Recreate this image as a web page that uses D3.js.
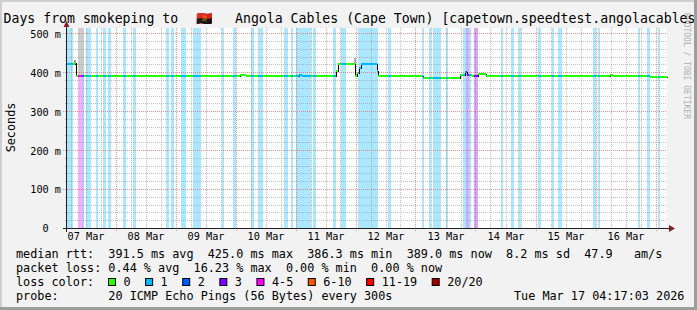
<!DOCTYPE html>
<html><head><meta charset="utf-8">
<script src="https://cdn.jsdelivr.net/npm/d3@7"></script>
<style>
html,body{margin:0;padding:0;background:#f2f2f2;}
svg{display:block;}
text{font-family:"DejaVu Sans Mono",monospace;white-space:pre;}
</style></head><body>
<svg id="chart" width="697" height="310"></svg>
<script>
// ---------------- data ----------------
const titleParts = ["Days from smokeping to", "🇦🇴", "Angola Cables (Cape Town) [capetown.speedtest.angolacables"];
const yAxisTitle = "Seconds";
const watermark = "RRDTOOL / TOBI OETIKER";
const timeDomain = ["03-07 04:36", "03-17 04:36"];
const yTickValues = [0, 0.1, 0.2, 0.3, 0.4, 0.5];
const dayLabelTimes = ["03-07 12:00","03-08 12:00","03-09 12:00","03-10 12:00","03-11 12:00",
  "03-12 12:00","03-13 12:00","03-14 12:00","03-15 12:00","03-16 12:00"];

// median rtt (ms), step series: value holds from time until next time
const medianTimes = ["03-07 04:36","03-07 07:36","03-07 08:12","03-10 01:48","03-10 04:12",
  "03-11 01:24","03-11 02:36","03-11 16:00","03-11 16:48","03-11 23:48","03-12 00:36",
  "03-12 01:12","03-12 02:00","03-12 08:24","03-12 09:00","03-13 03:00","03-13 17:48",
  "03-13 19:48","03-13 20:48","03-13 22:36","03-14 01:00","03-14 04:12","03-16 05:48",
  "03-16 07:00","03-16 21:48"];
const medianValues = [420,425,390,394,389.5,392,389.5,402,421,390,398,410,421,402,389.5,
  386.3,394,401,392,390.5,395,389.5,394,389.5,389];

// packet loss periods (index into loss legend)
const lossFrom = ["03-07 04:36","03-07 09:00","03-07 10:36","03-07 12:12","03-07 16:12",
  "03-07 19:00","03-07 21:00","03-08 03:00","03-08 07:00","03-08 20:12","03-08 22:12",
  "03-09 02:12","03-09 07:00","03-09 18:36","03-09 23:00","03-10 06:12","03-10 09:00",
  "03-10 19:24","03-10 22:00","03-11 00:12","03-11 07:00","03-11 15:00","03-11 18:12",
  "03-12 01:00","03-12 13:00","03-13 02:24","03-13 05:12","03-13 07:00","03-13 12:12",
  "03-13 19:00","03-13 20:12","03-13 21:12","03-13 23:24","03-14 10:12","03-14 14:12",
  "03-14 17:00","03-15 01:00","03-15 06:36","03-15 09:00","03-15 23:00","03-16 01:00",
  "03-16 17:00","03-16 20:36","03-17 00:48"];
const lossTo = ["03-07 07:00","03-07 10:36","03-07 11:24","03-07 14:12","03-07 17:00",
  "03-07 20:12","03-07 22:12","03-08 04:12","03-08 08:12","03-08 21:12","03-08 23:12",
  "03-09 04:12","03-09 10:12","03-09 19:24","03-10 00:12","03-10 07:12","03-10 11:00",
  "03-10 21:00","03-10 22:48","03-11 06:12","03-11 08:12","03-11 16:12","03-11 20:12",
  "03-12 09:00","03-12 14:12","03-13 03:24","03-13 06:12","03-13 10:12","03-13 13:00",
  "03-13 20:12","03-13 21:12","03-13 22:12","03-14 00:48","03-14 11:00","03-14 15:12",
  "03-14 18:12","03-15 02:12","03-15 07:24","03-15 10:36","03-16 00:12","03-16 01:48",
  "03-16 17:48","03-16 21:48","03-17 01:48"];
const lossLevel = [1,4,2,1,1,1,1,1,1,1,1,1,1,1,1,1,1,1,1,1,1,1,1,1,1,1,1,1,1,1,3,1,3,1,1,1,1,1,1,1,1,1,1,1];

// smoke (spread of individual pings, ms)
const smokeFrom = ["03-07 07:24","03-07 08:48","03-11 17:00","03-11 23:12","03-12 02:12"];
const smokeTo   = ["03-07 08:12","03-07 11:12","03-11 23:12","03-12 00:12","03-12 08:12"];
const smokeLow  = [425,392,421,421,421];
const smokeHigh = [432,513,424,436,424.5];
const smokeDensity = [0.6,0.2,0.55,0.45,0.6];

// legend
const lossLabels = ["0","1","2","3","4-5","6-10","11-19","20/20"];
const lossColors = ["#26ff00","#00b8ff","#0059ff","#7e00ff","#ff00ff","#ff5500","#ff0000","#a10000"];
const rttValues = [391.5, 425.0, 386.3, 389.0];
const rttNames = ["avg","max","min","now"];
const rttSd = 8.2;
const rttAms = 47.9;
const lossPctValues = [0.44, 16.23, 0.00, 0.00];
const lossPctNames = ["avg","max","min","now"];
const probeText = "20 ICMP Echo Pings (56 Bytes) every 300s";
const stampText = "Tue Mar 17 04:17:03 2026";

// ---------------- chart ----------------
const parse = s => d3.timeParse("%Y-%m-%d %H:%M")("2026-" + s);
const W = 697, H = 310;
const L = 67, R = 667, T = 28, B = 228;
const svg = d3.select("#chart");

const x = d3.scaleTime().domain(timeDomain.map(parse)).range([L, R]);
const y = d3.scaleLinear().domain([0, 0.5137]).range([B, T]);

svg.append("rect").attr("width", W).attr("height", H).attr("fill", "#f2f2f2");
svg.append("rect").attr("x", L).attr("y", T).attr("width", R - L).attr("height", B - T).attr("fill", "#fff");

// watermark
svg.append("text").attr("transform", "translate(683.5,13) rotate(90)")
  .attr("font-size", 8).attr("fill", "#b0b0b0").text(watermark);

// loss background bars
const px = t => Math.round(x(t));
svg.append("g").selectAll("rect").data(lossFrom.map((f, i) => ({f: parse(f), t: parse(lossTo[i]), l: lossLevel[i]})))
  .join("rect")
  .attr("x", d => px(d.f)).attr("width", d => Math.max(1, px(d.t) - px(d.f)))
  .attr("y", T).attr("height", B - T)
  .attr("fill", d => lossColors[d.l]).attr("fill-opacity", 0.33);

// smoke
const smokeCol = d3.interpolateRgb("#e2e2e2", "#6e6e6e");
svg.append("g").selectAll("rect").data(smokeFrom.map((f, i) => ({f: parse(f), t: parse(smokeTo[i]), lo: smokeLow[i] / 1000, hi: smokeHigh[i] / 1000, d: smokeDensity[i]})))
  .join("rect")
  .attr("x", d => px(d.f)).attr("width", d => px(d.t) - px(d.f))
  .attr("y", d => Math.round(y(d.hi))).attr("height", d => Math.round(y(d.lo)) - Math.round(y(d.hi)))
  .attr("fill", d => smokeCol(d.d));

// grid
const gGrid = svg.append("g").attr("shape-rendering", "crispEdges");
const minorCol = "rgba(143,143,143,0.55)", majorCol = "rgba(222,79,79,0.6)";
const hours6 = d3.timeHour.every(6).range(x.domain()[0], x.domain()[1]).filter(d => d.getHours() !== 0);
const days = d3.timeDay.range(x.domain()[0], x.domain()[1]);
gGrid.selectAll(".vmin").data(hours6).join("line")
  .attr("x1", d => px(d) + 0.5).attr("x2", d => px(d) + 0.5).attr("y1", T).attr("y2", B + 1)
  .attr("stroke", minorCol).attr("stroke-dasharray", "1,1");
gGrid.selectAll(".vmaj").data(days).join("line")
  .attr("x1", d => px(d) + 0.5).attr("x2", d => px(d) + 0.5).attr("y1", T).attr("y2", B + 3)
  .attr("stroke", majorCol).attr("stroke-dasharray", "1,1");
const minorY = d3.range(1, 26).map(i => i * 0.02).filter(v => Math.round(v * 100) % 10 !== 0);
gGrid.selectAll(".hmin").data(minorY).join("line")
  .attr("x1", L - 2).attr("x2", R).attr("y1", d => Math.round(y(d)) + 0.5).attr("y2", d => Math.round(y(d)) + 0.5)
  .attr("stroke", minorCol).attr("stroke-dasharray", "1,1");
gGrid.selectAll(".hmaj").data(yTickValues.filter(v => v > 0)).join("line")
  .attr("x1", L - 4).attr("x2", R).attr("y1", d => Math.round(y(d)) + 0.5).attr("y2", d => Math.round(y(d)) + 0.5)
  .attr("stroke", majorCol).attr("stroke-dasharray", "1,1");

// median black step line
const endT = x.domain()[1];
const medPts = medianTimes.map((t, i) => ({t: parse(t), v: medianValues[i] / 1000}));
const medFull = medPts.concat([{t: endT, v: medPts[medPts.length - 1].v}]);
svg.append("path").datum(medFull)
  .attr("d", d3.line().x(d => px(d.t) + 0.5).y(d => Math.round(y(d.v)) + 0.5).curve(d3.curveStepAfter))
  .attr("fill", "none").attr("stroke", "#000").attr("stroke-width", 1).attr("shape-rendering", "crispEdges");

// coloured median segments by loss
const lossObjs = lossFrom.map((f, i) => ({f: parse(f), t: parse(lossTo[i]), l: lossLevel[i]}));
let bps = [...medPts.map(d => +d.t), ...lossObjs.map(d => +d.f), ...lossObjs.map(d => +d.t), +endT]
  .filter(t => t >= +x.domain()[0] && t <= +endT);
bps = Array.from(new Set(bps)).sort((a, b) => a - b);
const segs = [];
for (let i = 0; i < bps.length - 1; i++) {
  const a = bps[i], b = bps[i + 1];
  let v = medPts[0].v;
  for (const p of medPts) if (+p.t <= a) v = p.v;
  let l = 0;
  for (const o of lossObjs) if (+o.f <= a && a < +o.t) l = o.l;
  segs.push({a, b, v, l});
}
svg.append("g").selectAll("line").data(segs).join("line")
  .attr("x1", d => px(new Date(d.a))).attr("x2", d => px(new Date(d.b)))
  .attr("y1", d => Math.round(y(d.v))).attr("y2", d => Math.round(y(d.v)))
  .attr("stroke", d => lossColors[d.l]).attr("stroke-width", 2).attr("shape-rendering", "crispEdges");

// axes (labels via d3 axes)
const yAxis = d3.axisLeft(y).tickValues(yTickValues).tickSize(0).tickPadding(6)
  .tickFormat(v => v === 0 ? "0\u00a0\u00a0" : Math.round(v * 1000) + " m");
const gy = svg.append("g").attr("transform", `translate(${L},0)`).call(yAxis);
gy.select(".domain").remove();
gy.selectAll("text").attr("font-family", "DejaVu Sans Mono").attr("font-size", 10.2).attr("fill", "#000").attr("dy", "0.38em");

const xAxis = d3.axisBottom(x).tickValues(dayLabelTimes.map(parse)).tickSize(0).tickPadding(4.8)
  .tickFormat(d3.timeFormat("%d %b"));
const gx = svg.append("g").attr("transform", `translate(0,${B})`).call(xAxis);
gx.select(".domain").remove();
gx.selectAll("text").attr("font-family", "DejaVu Sans Mono").attr("font-size", 10.2).attr("fill", "#000");

// axis lines and arrows
svg.append("line").attr("x1", L - 4).attr("x2", R + 3).attr("y1", B + 0.5).attr("y2", B + 0.5)
  .attr("stroke", "#1f1f1f").attr("shape-rendering", "crispEdges");
svg.append("line").attr("x1", L - 0.5).attr("x2", L - 0.5).attr("y1", B + 4).attr("y2", T - 2)
  .attr("stroke", "#1f1f1f").attr("shape-rendering", "crispEdges");
svg.append("path").attr("d", `M${R + 2},${B - 3} L${R + 8},${B + 0.5} L${R + 2},${B + 4} Z`).attr("fill", "#801f1f");
svg.append("path").attr("d", `M${L - 3.5},${T - 1} L${L - 0.5},${T - 7} L${L + 2.5},${T - 1} Z`).attr("fill", "#801f1f");

// y axis title
svg.append("text").attr("transform", "translate(14.5,127.5) rotate(-90)")
  .attr("text-anchor", "middle").attr("font-size", 11.8).text(yAxisTitle);

// legend
const LF = 11.8, LX = 16;
const row1 = "median rtt:  " + rttValues.map((v, i) => v.toFixed(1) + " ms " + rttNames[i]).join("  ")
  + "  " + rttSd.toFixed(1) + " ms sd  " + rttAms.toFixed(1) + "   am/s";
const row2 = "packet loss: " + lossPctValues.map((v, i) => v.toFixed(2) + " % " + lossPctNames[i]).join("  ");
const row4 = "probe:       " + probeText;
svg.append("text").attr("x", LX).attr("y", 258.3).attr("font-size", LF).text(row1);
svg.append("text").attr("x", LX).attr("y", 272.3).attr("font-size", LF).text(row2);
svg.append("text").attr("x", LX).attr("y", 286.3).attr("font-size", LF).text("loss color:");
svg.append("text").attr("x", LX).attr("y", 300.3).attr("font-size", LF).text(row4);
svg.append("text").attr("x", 514).attr("y", 300.3).attr("font-size", LF).text(stampText);
let bx = 108.5;
lossLabels.forEach((lab, i) => {
  svg.append("rect").attr("x", bx).attr("y", 278.5).attr("width", 7).attr("height", 7)
    .attr("fill", lossColors[i]).attr("stroke", "#000").attr("stroke-width", 1);
  const t = svg.append("text").attr("x", bx + 15).attr("y", 286.3).attr("font-size", LF).text(lab);
  bx = bx + 15 + t.node().getComputedTextLength() + 15;
});

// title
const title = svg.append("text").attr("y", 23).attr("font-size", 13.2).attr("fill", "#000");
title.append("tspan").attr("x", 3.5).text(titleParts[0]);
title.append("tspan").attr("x", 196).text(titleParts[1]);
title.append("tspan").attr("x", 235).text(titleParts[2]);

// frame shading
svg.append("rect").attr("x", 0).attr("y", 0).attr("width", W).attr("height", 2).attr("fill", "#cfcfcf");
svg.append("rect").attr("x", 0).attr("y", 0).attr("width", 2).attr("height", H).attr("fill", "#cfcfcf");
svg.append("rect").attr("x", 0).attr("y", H - 3).attr("width", W).attr("height", 3).attr("fill", "#9e9e9e");
svg.append("rect").attr("x", W - 3).attr("y", 0).attr("width", 3).attr("height", H).attr("fill", "#9e9e9e");
</script>
</body></html>
